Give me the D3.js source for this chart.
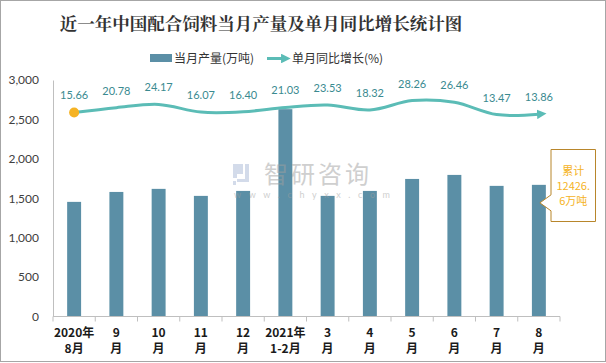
<!DOCTYPE html>
<html>
<head>
<meta charset="utf-8">
<script src="https://cdn.jsdelivr.net/npm/d3@7"></script>
<style>
  body { margin: 0; background: #fff; }
  svg { display: block; }
</style>
</head>
<body>
<div class="chart"></div>
<script>
// data
const categories = ["2020年|8月", "9|月", "10|月", "11|月", "12|月", "2021年|1-2月",
                    "3|月", "4|月", "5|月", "6|月", "7|月", "8|月"];
const output = [1454, 1580, 1619, 1530, 1593, 2630, 1530, 1593, 1745, 1796, 1657, 1670];
const growth = [15.66, 20.78, 24.17, 16.07, 16.40, 21.03, 23.53, 18.32, 28.26, 26.46, 13.47, 13.86];
const yTicks = [0, 500, 1000, 1500, 2000, 2500, 3000];

const W = 606, H = 363;
const plot = { left: 53, right: 560, top: 80, bottom: 316.5 };
const numFont = "Lato, 'Noto Sans CJK SC', sans-serif";
const cjkFont = "'Noto Sans CJK SC', sans-serif";

const svg = d3.select(".chart").append("svg")
    .attr("width", W).attr("height", H);

// outer border
svg.append("rect")
    .attr("x", 0.5).attr("y", 0.5)
    .attr("width", W - 1).attr("height", H - 2)
    .attr("fill", "#fff").attr("stroke", "#a6a6a6");

const defs = svg.append("defs");
defs.append("marker")
    .attr("id", "arrow")
    .attr("viewBox", "0 0 10 10")
    .attr("refX", 2).attr("refY", 5)
    .attr("markerWidth", 3.2).attr("markerHeight", 3.2)
    .attr("orient", "auto")
    .append("path")
    .attr("d", "M0,0 L10,5 L0,10 Z")
    .attr("fill", "#5bbcb6");

// title
svg.append("text")
    .attr("x", 261).attr("y", 30)
    .attr("text-anchor", "middle")
    .attr("font-family", "'Noto Serif CJK SC', 'Noto Sans CJK SC', serif")
    .attr("font-weight", "bold")
    .attr("font-size", 17.5)
    .attr("fill", "#333")
    .text("近一年中国配合饲料当月产量及单月同比增长统计图");

// scales
const x = d3.scaleBand()
    .domain(categories)
    .range([plot.left, plot.right])
    .padding(0);

const y = d3.scaleLinear()
    .domain([0, 3000])
    .range([plot.bottom, plot.top]);

// hidden secondary axis for the growth line
const y2 = d3.scaleLinear()
    .domain([-200, 50])
    .range([plot.bottom, plot.top]);

// y axis
const yAxis = d3.axisLeft(y)
    .tickValues(yTicks)
    .tickSize(0)
    .tickPadding(14)
    .tickFormat(d3.format(","));

const yG = svg.append("g")
    .attr("transform", `translate(${plot.left},0)`)
    .call(yAxis);
yG.select(".domain").attr("stroke", "#bfbfbf");
yG.selectAll("text")
    .attr("font-family", numFont)
    .attr("font-size", 12)
    .attr("fill", "#404040");

// bars
const bw = x.bandwidth() * 0.33;
svg.append("g")
    .selectAll("rect")
    .data(output)
    .join("rect")
    .attr("x", (d, i) => x(categories[i]) + x.bandwidth() / 2 - bw / 2)
    .attr("y", d => y(d))
    .attr("width", bw)
    .attr("height", d => y(0) - y(d))
    .attr("fill", "#5b8fa6");

// x axis
const xG = svg.append("g");
xG.append("line")
    .attr("x1", plot.left).attr("x2", plot.right)
    .attr("y1", y(0)).attr("y2", y(0))
    .attr("stroke", "#bfbfbf");
xG.selectAll(".tk")
    .data(categories.concat([null]))
    .join("line")
    .attr("class", "tk")
    .attr("x1", d => d === null ? plot.right : x(d))
    .attr("x2", d => d === null ? plot.right : x(d))
    .attr("y1", y(0)).attr("y2", y(0) + 5)
    .attr("stroke", "#bfbfbf");

const xl = xG.selectAll(".xl")
    .data(categories)
    .join("text")
    .attr("class", "xl")
    .attr("text-anchor", "middle")
    .attr("font-family", cjkFont)
    .attr("font-weight", "bold")
    .attr("font-size", 12)
    .attr("fill", "#1a1a1a");
xl.each(function(d) {
    const parts = d.split("|");
    const cx = x(d) + x.bandwidth() / 2;
    d3.select(this).selectAll("tspan")
        .data(parts)
        .join("tspan")
        .attr("x", cx)
        .attr("y", (p, j) => 337 + j * 16)
        .text(p => p);
});

// watermark
const wm = svg.append("g").attr("opacity", 0.5);
wm.append("path")
    .attr("d", "M233,164 h10 v10 h-6 v4 h-4 Z M245,164 h4 v18 h-12 v-3 h8 Z M233,181 h3 v4 h-3 Z")
    .attr("fill", "#a9b8d6");
wm.append("text")
    .attr("x", 264).attr("y", 183)
    .attr("font-family", cjkFont)
    .attr("font-size", 24)
    .attr("letter-spacing", 3)
    .attr("fill", "#a0a0a0")
    .text("智研咨询");
wm.append("text")
    .attr("x", 234).attr("y", 198)
    .attr("font-family", numFont)
    .attr("font-size", 9)
    .attr("letter-spacing", 7.6)
    .attr("fill", "#a0a0a0")
    .text("www.chyxx.com");

// growth line
const cx = (d, i) => x(categories[i]) + x.bandwidth() / 2;
const line = d3.line()
    .x(cx)
    .y(d => y2(d))
    .curve(d3.curveCatmullRom.alpha(0.5));

svg.append("path")
    .datum(growth)
    .attr("d", line)
    .attr("fill", "none")
    .attr("stroke", "#5bbcb6")
    .attr("stroke-width", 3)
    .attr("marker-end", "url(#arrow)");

svg.append("circle")
    .attr("cx", cx(growth[0], 0))
    .attr("cy", y2(growth[0]))
    .attr("r", 5)
    .attr("fill", "#f5b325");

svg.append("g")
    .selectAll("text")
    .data(growth)
    .join("text")
    .attr("x", cx)
    .attr("y", d => y2(d) - 13)
    .attr("text-anchor", "middle")
    .attr("font-family", numFont)
    .attr("font-size", 11)
    .attr("fill", "#3a8a90")
    .text(d => d.toFixed(2));

// legend
const lg = svg.append("g");
lg.append("rect")
    .attr("x", 150).attr("y", 54)
    .attr("width", 22).attr("height", 8)
    .attr("fill", "#5b8fa6");
lg.append("text")
    .attr("x", 174).attr("y", 63)
    .attr("font-family", cjkFont)
    .attr("font-size", 12)
    .attr("fill", "#333")
    .text("当月产量(万吨)");
lg.append("line")
    .attr("x1", 267).attr("x2", 283)
    .attr("y1", 58.5).attr("y2", 58.5)
    .attr("stroke", "#5bbcb6")
    .attr("stroke-width", 3)
    .attr("marker-end", "url(#arrow)");
lg.append("text")
    .attr("x", 292).attr("y", 63)
    .attr("font-family", cjkFont)
    .attr("font-size", 12)
    .attr("fill", "#333")
    .text("单月同比增长(%)");

// cumulative callout
const last = categories.length - 1;
const px = cx(output[last], last) + 1;
const py = y(output[last]) + 18;
const box = { l: 551, r: 595.5, t: 149.5, b: 221.5 };
svg.append("path")
    .attr("d", `M${box.l},${box.t} H${box.r} V${box.b} H${box.l} V${py + 8} L${px},${py} L${box.l},${py - 8} Z`)
    .attr("fill", "#fff")
    .attr("stroke", "#b8862b");
svg.append("text")
    .attr("text-anchor", "middle")
    .attr("font-family", cjkFont)
    .attr("font-size", 11)
    .attr("fill", "#f5b325")
    .selectAll("tspan")
    .data(["累计", "12426.", "6万吨"])
    .join("tspan")
    .attr("x", (box.l + box.r) / 2)
    .attr("y", (d, i) => 175 + i * 15)
    .text(d => d);
</script>
</body>
</html>
